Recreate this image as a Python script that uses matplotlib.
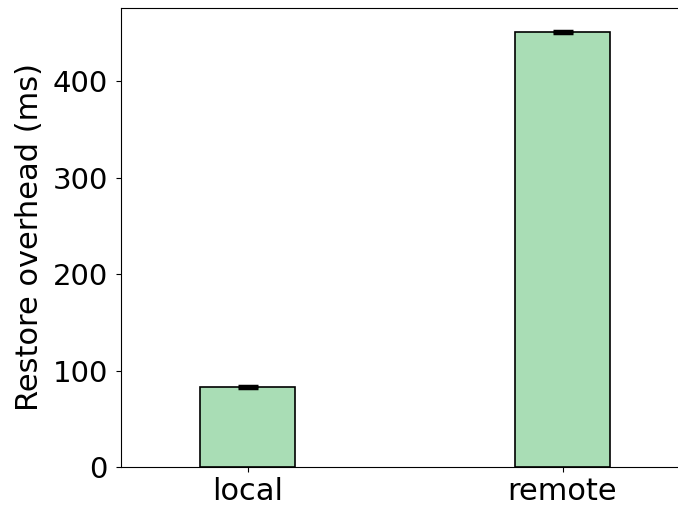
import matplotlib
matplotlib.use("Agg")
import matplotlib.pyplot as plt

categories = ["local", "remote"]
overhead_ms = [83, 451]
overhead_err = [1, 1]

fig = plt.figure(figsize=(6.78, 5.08), dpi=100)
ax = fig.add_axes([0.1785, 0.0807, 0.8378, 0.9036])

x = list(range(len(categories)))
ax.bar(x, overhead_ms, width=0.3, color="#a9ddb5", edgecolor="black", linewidth=1.2,
       yerr=overhead_err, capsize=7, error_kw=dict(ecolor="black", elinewidth=1.5, capthick=2.5))

ax.set_xticks(x)
ax.set_xticklabels(categories)
ax.set_xlim(-0.4016, 1.4016)
ax.set_ylim(0, 476)
ax.set_yticks([0, 100, 200, 300, 400])
ax.tick_params(axis="x", labelsize=22)
ax.tick_params(axis="y", labelsize=21, pad=6)
ax.set_ylabel("Restore overhead (ms)", fontsize=22, labelpad=6)

fig.savefig("out.png", dpi=100)
